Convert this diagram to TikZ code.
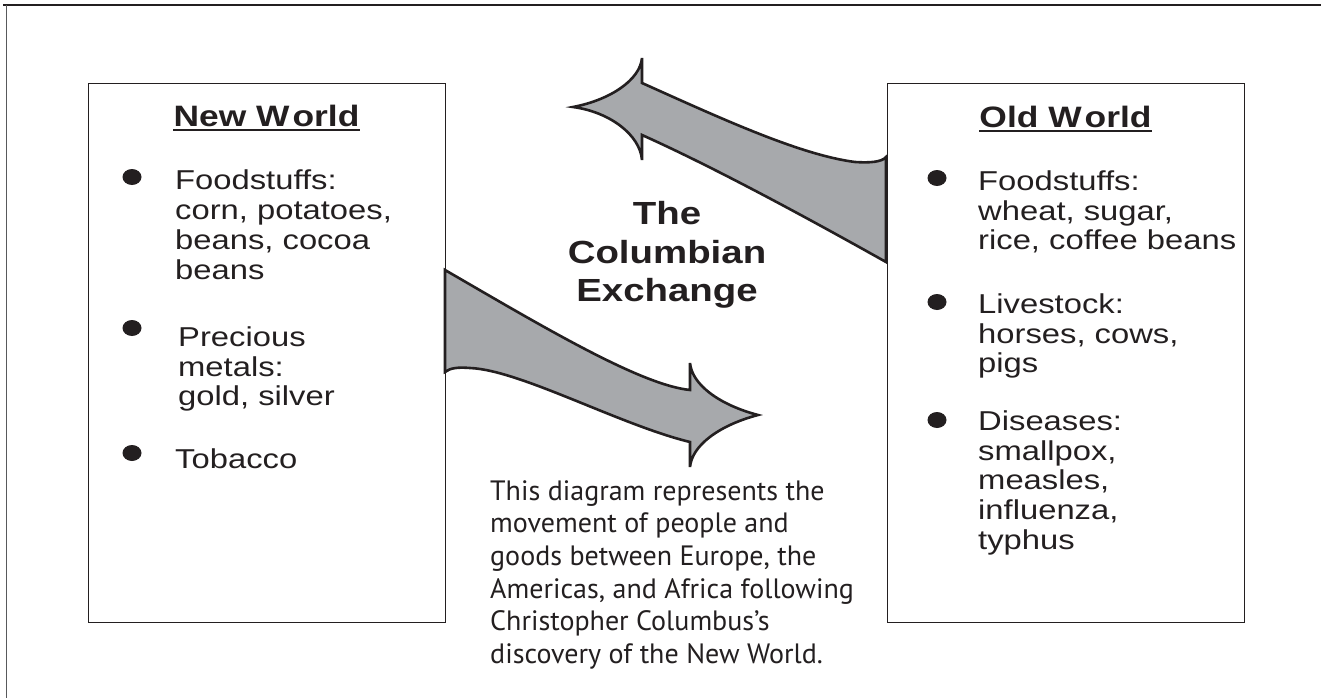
\documentclass[tikz,border=0pt]{standalone}
\usepackage{fontspec}
\setmainfont{Liberation Sans}[FakeStretch=1.2]
\newfontfamily\descfont{PT Sans}
\definecolor{ink}{HTML}{231F20}
\definecolor{arrowgray}{HTML}{A7A9AC}
\definecolor{framegray}{HTML}{58595B}
\newcommand{\lstrut}{\rule{0pt}{24pt}}
\begin{document}
\begin{tikzpicture}[x=1pt,y=-1pt,
  box/.style={draw=ink, line width=1.3pt, inner sep=0pt, anchor=north west},
  title/.style={font=\bfseries\fontsize{29.5}{32}\selectfont, text=ink, inner sep=0pt, anchor=base},
  uline/.style={draw=ink, line width=2pt},
  item/.style={font=\fontsize{27.3}{29.8}\selectfont, text=ink, inner sep=0pt, anchor=north west, align=left},
  bigarrow/.style={fill=arrowgray, draw=ink, line width=2.6pt, line join=miter, miter limit=6},
  bulletdot/.style={fill=ink}]
\useasboundingbox (0,0) rectangle (1321,698);
% outer frame
\draw[ink, line width=1.5pt] (3,5) -- (1321,5);
\draw[framegray, line width=1.4pt] (6.7,5) -- (6.7,698);
% boxes
\node[box, minimum width=357pt, minimum height=539pt] (NW) at (88,83) {};
\node[box, minimum width=357pt, minimum height=539pt] (OW) at (887,83) {};
% titles
\node[title] (nwt) at (266.5,127) {New W\kern3pt orld};
\draw[uline] ([yshift=-3pt]nwt.base west) -- ([yshift=-3pt]nwt.base east);
\node[title] (owt) at (1065.5,128) {Old W\kern3pt orld};
\draw[uline] ([yshift=-3pt]owt.base west) -- ([yshift=-3pt]owt.base east);
% New World items
\fill[bulletdot] (132,177) ellipse [x radius=9.5pt, y radius=8pt];
\node[item] (nw1) at (175,165.5) {\lstrut Foodstuffs:\\corn, potatoes,\\beans, cocoa\\beans};
\fill[bulletdot] (132,328) ellipse [x radius=9.5pt, y radius=8pt];
\node[item] (nw2) at (178,322) {\lstrut Precious\\metals:\\gold, silver};
\fill[bulletdot] (132,453) ellipse [x radius=9.5pt, y radius=8pt];
\node[item] (nw3) at (175,444) {\lstrut Tobacco};
% Old World items
\fill[bulletdot] (937,178) ellipse [x radius=9.5pt, y radius=8pt];
\node[item] (ow1) at (978,166) {\lstrut Foodstuffs:\\wheat, sugar,\\rice, coffee beans};
\fill[bulletdot] (937,302) ellipse [x radius=9.5pt, y radius=8pt];
\node[item] (ow2) at (978,289) {\lstrut Livestock:\\horses, cows,\\pigs};
\fill[bulletdot] (937,420) ellipse [x radius=9.5pt, y radius=8pt];
\node[item] (ow3) at (978,406) {\lstrut Diseases:\\smallpox,\\measles,\\influenza,\\typhus};
% center title
\node[font=\bfseries\fontsize{32}{38.5}\selectfont, text=ink, align=center, anchor=north, inner sep=0pt] (ttl) at (667,194.5) {\rule{0pt}{30pt}The\\Columbian\\Exchange};
% description
\node[font=\descfont\fontsize{28}{32.6}\selectfont, text=ink, align=left, anchor=north west, inner sep=0pt] (desc) at (490,474) {\rule{0pt}{26pt}This diagram represents the\\movement of people and\\goods between Europe, the\\Americas, and Africa following\\Christopher Columbus’s\\discovery of the New World.};
% arrow New World -> Old World
\draw[bigarrow] (445,270) .. controls (540,325) and (640,385) .. (690,390) -- (690,363)
  .. controls (692,385) and (720,405) .. (758,415)
  .. controls (720,425) and (692,445) .. (690,467) -- (690,442)
  .. controls (620,425) and (520,370) .. (470,368)
  .. controls (458,367) and (450,368) .. (445,372) -- cycle;
% arrow Old World -> New World
\draw[bigarrow] (886,262) .. controls (820,225) and (720,170) .. (642,135) -- (642,160)
  .. controls (640,135) and (610,112) .. (573,107)
  .. controls (610,100) and (640,80) .. (642,58) -- (642,83)
  .. controls (720,118) and (800,155) .. (855,162)
  .. controls (870,163) and (882,162) .. (886,157) -- cycle;
\end{tikzpicture}
\end{document}
